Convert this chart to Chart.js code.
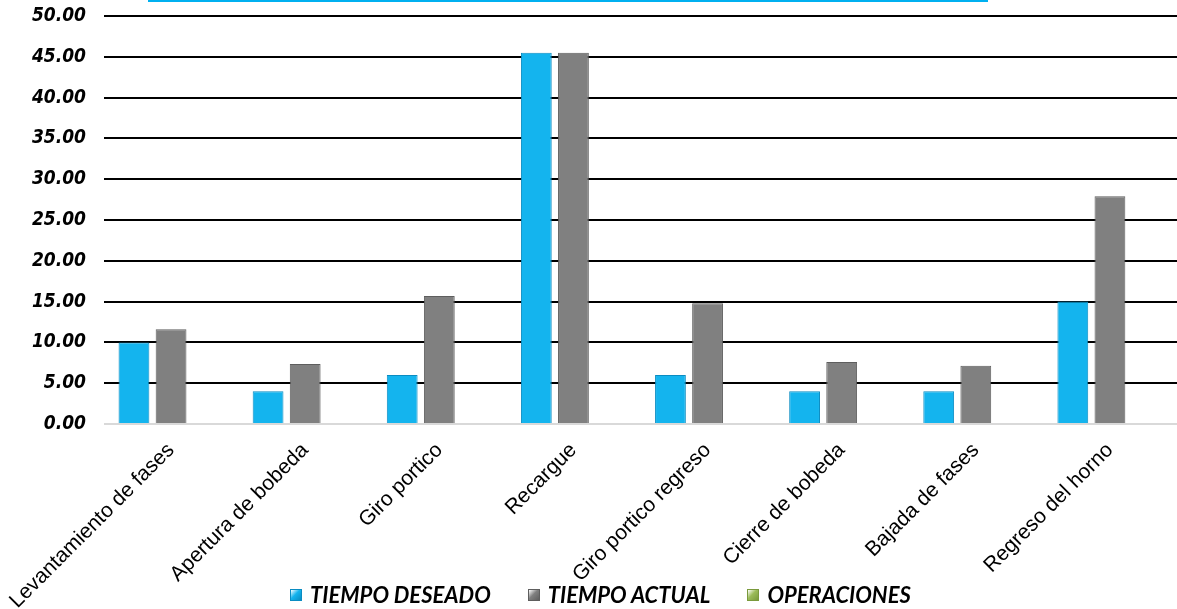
<!DOCTYPE html>
<html lang="es">
<head>
<meta charset="utf-8">
<title>Tiempos de operación</title>
<script src="https://cdn.jsdelivr.net/npm/chart.js@4/dist/chart.umd.min.js"></script>
<style>
  html, body { margin: 0; padding: 0; background: #ffffff; }
  #wrap { position: relative; width: 1177px; height: 609px; }
  #leyenda {
    position: absolute; left: 290px; top: 581px;
    display: flex; align-items: center; gap: 37px;
    font-family: Lato, 'Open Sans', sans-serif; font-size: 22px;
    font-weight: bold; font-style: italic; color: #000;
  }
  #leyenda .item { display: flex; align-items: center; gap: 8px; white-space: nowrap; }
  #leyenda .caja { width: 12px; height: 12px; box-sizing: border-box; }
</style>
</head>
<body>
<div id="wrap">
  <canvas id="tiemposChart" width="1177" height="609"></canvas>
  <div id="leyenda"></div>
</div>
<script>
/*
|--------------------------------------------------------------------------
| Datos del gráfico
|--------------------------------------------------------------------------
*/
const categorias = [
  'Levantamiento de fases', 'Apertura de bobeda', 'Giro portico', 'Recargue',
  'Giro portico regreso', 'Cierre de bobeda', 'Bajada de fases', 'Regreso del horno'
];
const tiempoDeseado = [10.0, 4.0, 6.0, 45.5, 6.0, 4.0, 4.0, 15.0];
const tiempoActual  = [11.6, 7.35, 15.7, 45.5, 14.8, 7.6, 7.15, 27.9];
const operaciones   = [null, null, null, null, null, null, null, null];
const ticksY = [0, 5, 10, 15, 20, 25, 30, 35, 40, 45, 50];

document.addEventListener("DOMContentLoaded", () => {

  /*
  |--------------------------------------------------------------------------
  | Plugin: línea cian del recuadro del título (arriba)
  |--------------------------------------------------------------------------
  */
  const lineaTitulo = {
    id: 'lineaTitulo',
    afterDraw(chart) {
      const c = chart.ctx;
      c.save();
      c.strokeStyle = '#00B0F0';
      c.lineWidth = 2;
      c.beginPath();
      c.moveTo(148, 1);
      c.lineTo(988, 1);
      c.stroke();
      c.restore();
    }
  };

  /*
  |--------------------------------------------------------------------------
  | Plugin: leyenda HTML (se superpone a las etiquetas del eje X)
  |--------------------------------------------------------------------------
  */
  const leyendaHtml = {
    id: 'leyendaHtml',
    afterUpdate(chart) {
      const cont = document.getElementById('leyenda');
      if (!cont) return;
      cont.innerHTML = '';
      chart.data.datasets.forEach(ds => {
        const item = document.createElement('div');
        item.className = 'item';
        const caja = document.createElement('span');
        caja.className = 'caja';
        caja.style.background = `linear-gradient(135deg, #ffffff 0%, ${ds.backgroundColor} 45%, ${ds.borderColor} 100%)`;
        caja.style.border = `1px solid ${ds.borderColor}`;
        const texto = document.createElement('span');
        texto.textContent = ds.label;
        item.appendChild(caja);
        item.appendChild(texto);
        cont.appendChild(item);
      });
    }
  };

  const ctx = document.getElementById('tiemposChart');

  const data = {
    labels: categorias,
    datasets: [
      {
        label: 'TIEMPO DESEADO',
        data: tiempoDeseado,
        backgroundColor: '#14B4EE',
        borderColor: '#0A8CC2',
        borderWidth: 1
      },
      {
        label: 'TIEMPO ACTUAL',
        data: tiempoActual,
        backgroundColor: '#808080',
        borderColor: '#5E5E5E',
        borderWidth: 1
      },
      {
        label: 'OPERACIONES',
        data: operaciones,
        backgroundColor: '#9BBB59',
        borderColor: '#7A9A3C',
        borderWidth: 1
      }
    ]
  };

  const config = {
    type: 'bar',
    data: data,
    options: {
      responsive: false,
      animation: false,
      layout: { autoPadding: false, padding: { top: 16, right: 0, left: 0, bottom: 0 } },
      datasets: {
        bar: { categoryPercentage: 0.83, barPercentage: 0.83 }
      },
      plugins: {
        tooltip: { enabled: false },
        legend: { display: false }
      },
      scales: {
        x: {
          grid: { display: false },
          border: { display: false },
          ticks: {
            minRotation: 45,
            maxRotation: 45,
            color: '#000000',
            padding: 6,
            font: { family: "'Liberation Sans', Arial, sans-serif", size: 21 }
          },
          afterFit: (axis) => { axis.height = 185; }
        },
        y: {
          min: 0,
          max: 50,
          afterBuildTicks: (axis) => { axis.ticks = ticksY.map(v => ({ value: v })); },
          // el padding de las etiquetas no debe empujar el área hacia abajo
          afterFit: (axis) => {
            axis.width = 104;
            axis.paddingTop = 0;
            axis.paddingBottom = 0;
          },
          grid: {
            drawTicks: false,
            lineWidth: 2,
            color: (c) => (c.tick && c.tick.value === 0) ? '#D9D9D9' : '#000000'
          },
          border: { display: false },
          ticks: {
            padding: 18,
            color: '#000000',
            font: { family: "'DejaVu Sans Condensed', 'DejaVu Sans', sans-serif", size: 19, weight: 'bold', style: 'italic' },
            callback: (v) => Number(v).toFixed(2)
          }
        }
      }
    },
    plugins: [lineaTitulo, leyendaHtml]
  };

  new Chart(ctx, config);
});
</script>
</body>
</html>
